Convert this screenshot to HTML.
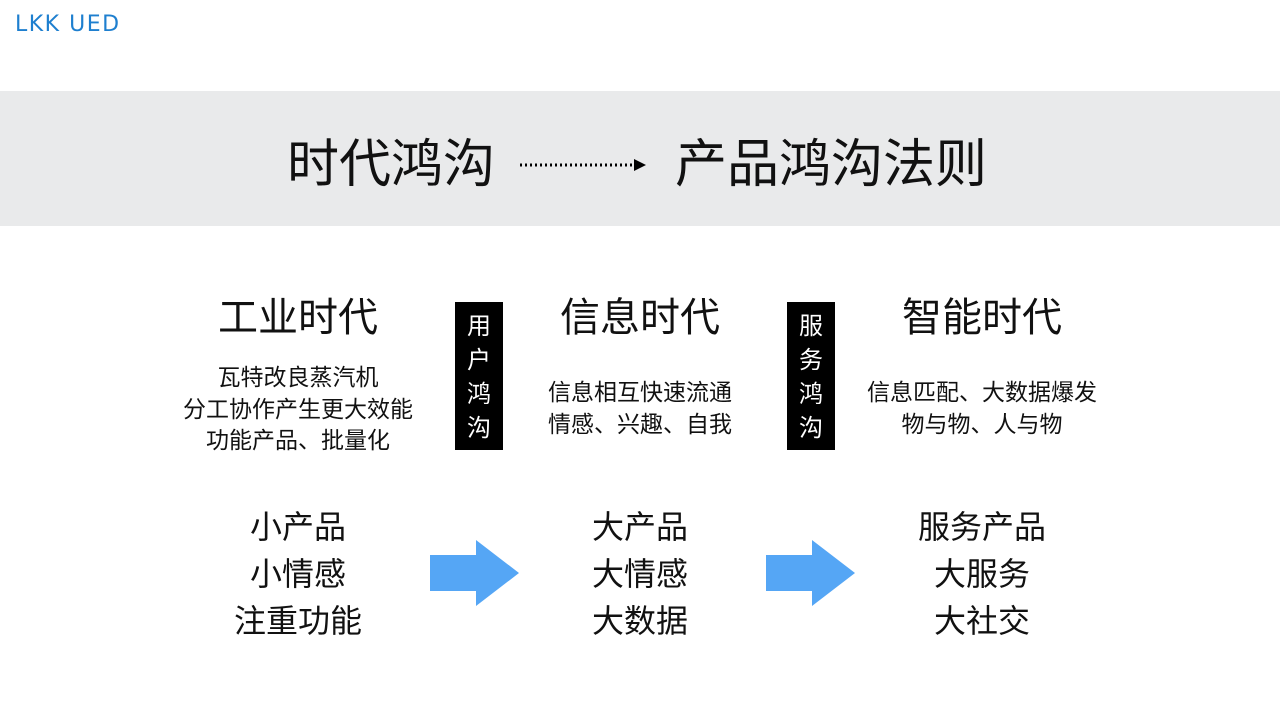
<!DOCTYPE html>
<html><head><meta charset="utf-8"><style>
body{margin:0;width:1280px;height:720px;background:#fff;position:relative;overflow:hidden;font-family:"Liberation Sans","Noto Sans CJK SC",sans-serif;color:#111}
.a{position:absolute;white-space:nowrap}
.c{position:absolute;text-align:center;transform:translateX(-50%);white-space:nowrap}
.h{font-size:40px;line-height:40px}
.s{font-size:23px;line-height:31.5px}
.b{font-size:32px;line-height:47px}
.v{position:absolute;background:#000;color:#fff;width:48px;top:302px;height:148px;font-size:24px;line-height:34px;text-align:center;padding-top:8px;box-sizing:border-box}
</style></head><body>
<div class="a" style="left:15px;top:12px;font-size:22px;color:#1e7fcf;letter-spacing:1.5px;font-family:'DejaVu Sans',sans-serif">LKK UED</div>
<div class="a" style="left:0;top:91px;width:1280px;height:135px;background:#e9eaeb"></div>
<div class="a" style="left:287px;top:135px;font-size:52px;line-height:60px">时代鸿沟</div>
<div class="a" style="left:675px;top:135px;font-size:52px;line-height:60px">产品鸿沟法则</div>
<svg class="a" style="left:518px;top:155px" width="130" height="20"><line x1="2" y1="10" x2="118" y2="10" stroke="#000" stroke-width="3" stroke-dasharray="2 3"/><polygon points="116,4 128,10 116,16" fill="#000"/></svg>

<div class="c h" style="left:298px;top:298px">工业时代</div>
<div class="c h" style="left:640px;top:298px">信息时代</div>
<div class="c h" style="left:982px;top:298px">智能时代</div>

<div class="c s" style="left:298px;top:362px">瓦特改良蒸汽机<br>分工协作产生更大效能<br>功能产品、批量化</div>
<div class="c s" style="left:640px;top:377px">信息相互快速流通<br>情感、兴趣、自我</div>
<div class="c s" style="left:982px;top:377px">信息匹配、大数据爆发<br>物与物、人与物</div>

<div class="v" style="left:455px">用<br>户<br>鸿<br>沟</div>
<div class="v" style="left:787px">服<br>务<br>鸿<br>沟</div>

<div class="c b" style="left:298px;top:504px">小产品<br>小情感<br>注重功能</div>
<div class="c b" style="left:640px;top:504px">大产品<br>大情感<br>大数据</div>
<div class="c b" style="left:982px;top:504px">服务产品<br>大服务<br>大社交</div>

<svg class="a" style="left:430px;top:540px" width="90" height="66"><polygon points="0,15 46,15 46,0 89,33 46,66 46,51 0,51" fill="#55a6f5"/></svg>
<svg class="a" style="left:766px;top:540px" width="90" height="66"><polygon points="0,15 46,15 46,0 89,33 46,66 46,51 0,51" fill="#55a6f5"/></svg>
</body></html>
